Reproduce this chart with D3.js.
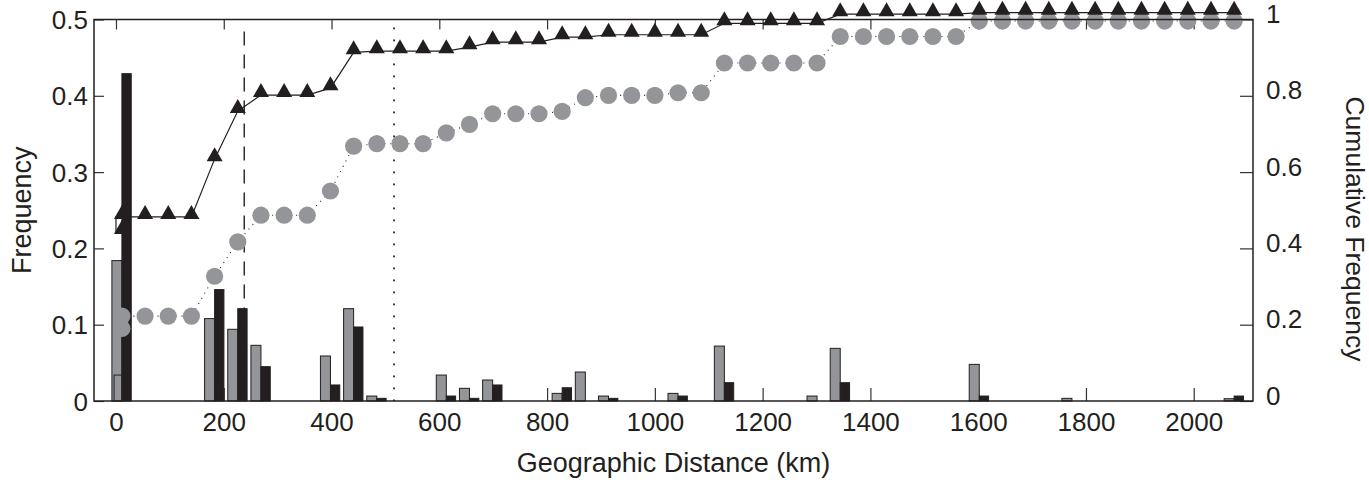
<!DOCTYPE html>
<html>
<head>
<meta charset="utf-8">
<script src="https://cdn.jsdelivr.net/npm/d3@7"></script>
<style>
  body { margin: 0; background: #fff; }
  text { font-family: "Liberation Sans", Arial, Helvetica, sans-serif; fill: #231f20; }
</style>
</head>
<body>
<div id="chart"></div>
<script>
// bin centres (km)
const binCenters = [11, 54, 97, 140, 183, 226, 269, 312, 355, 398, 441, 484, 527, 570, 613, 656, 699, 742, 785, 828,
  871, 914, 957, 1000, 1043, 1086, 1129, 1172, 1215, 1258, 1301, 1344, 1387, 1430, 1473, 1516, 1559, 1602, 1645, 1688,
  1731, 1774, 1817, 1860, 1903, 1946, 1989, 2032, 2075];

// frequency per bin (left axis)
const grayFreq = [0.184, 0, 0, 0, 0.108, 0.094, 0.073, 0, 0, 0.059, 0.121, 0.0065, 0, 0, 0.034, 0.0166, 0.0275, 0, 0, 0.010,
  0.038, 0.0065, 0, 0, 0.010, 0, 0.072, 0, 0, 0, 0.0065, 0.069, 0, 0, 0, 0, 0, 0.048, 0, 0,
  0, 0.0035, 0, 0, 0, 0, 0, 0, 0.003];
const blackFreq = [0.429, 0, 0, 0, 0.146, 0.121, 0.045, 0, 0, 0.021, 0.097, 0.0035, 0, 0, 0.0065, 0.0035, 0.021, 0, 0, 0.0174,
  0, 0.0035, 0, 0, 0.0065, 0, 0.024, 0, 0, 0, 0, 0.024, 0, 0, 0, 0, 0, 0.0065, 0, 0,
  0, 0, 0, 0, 0, 0, 0, 0, 0.0065];
// second, small gray bar in the first bin
const grayInner = [0.034];

// cumulative frequency per bin (right axis)
const grayCum = [0.2225, 0.2225, 0.2225, 0.2225, 0.327, 0.417, 0.487, 0.487, 0.487, 0.5505, 0.668, 0.6745, 0.6745, 0.6745,
  0.703, 0.725, 0.753, 0.753, 0.753, 0.759, 0.795, 0.801, 0.801, 0.801, 0.808, 0.808, 0.886, 0.886, 0.886, 0.886, 0.886,
  0.9555, 0.9555, 0.9555, 0.9555, 0.9555, 0.9555, 0.996, 0.996, 0.996, 0.996, 0.996, 0.996, 0.996, 0.996, 0.996, 0.996,
  0.996, 0.996];
const blackCum = [0.4825, 0.4825, 0.4825, 0.4825, 0.634, 0.760, 0.802, 0.802, 0.802, 0.820, 0.914, 0.917, 0.917, 0.917,
  0.917, 0.9275, 0.9406, 0.9406, 0.9406, 0.9537, 0.9537, 0.960, 0.960, 0.960, 0.960, 0.960, 0.990, 0.990, 0.990, 0.990,
  0.990, 1.014, 1.014, 1.014, 1.014, 1.014, 1.014, 1.018, 1.018, 1.018, 1.018, 1.018, 1.018, 1.018, 1.018, 1.018, 1.018,
  1.018, 1.018];
// extra first-bin cumulative points
const grayCumFirst = [0.19];
const blackCumFirst = [0.443];

// dashed and dotted reference distances (km)
const refDistances = [238, 516];

const xTicks = [0, 200, 400, 600, 800, 1000, 1200, 1400, 1600, 1800, 2000];
const yLeftTicks = [0, 0.1, 0.2, 0.3, 0.4, 0.5];
const yRightTicks = [0, 0.2, 0.4, 0.6, 0.8, 1];

const W = 1369, H = 480;
const L = 94, R = 1253, T = 19.5, B = 401;
const GRAY = "#939598", DARK = "#231f20";

const svg = d3.select("#chart").append("svg")
  .attr("width", W).attr("height", H);

const x = d3.scaleLinear().domain([-40.8, 2110]).range([L, R]);
const yL = d3.scaleLinear().domain([0, 0.5]).range([B, T]);
const yR = d3.scaleLinear().domain([0, 1]).range([B, T]);

// axes
function styleAxis(g) {
  g.select(".domain").remove();
  g.selectAll(".tick line").attr("stroke", "#333").attr("stroke-width", 1.2);
  g.selectAll(".tick text").style("font-size", "26px").attr("fill", DARK);
}

svg.append("g")
  .attr("transform", `translate(0,${B})`)
  .call(d3.axisBottom(x).tickValues(xTicks).tickSize(-13).tickPadding(29).tickFormat(d3.format("d")))
  .call(styleAxis)
  .selectAll(".tick text").attr("dy", 0).attr("y", 29.5);

svg.append("g")
  .attr("transform", `translate(0,${T})`)
  .call(d3.axisTop(x).tickValues(xTicks).tickSize(-10).tickFormat(""))
  .call(styleAxis);

svg.append("g")
  .attr("transform", `translate(${L},0)`)
  .call(d3.axisLeft(yL).tickValues(yLeftTicks).tickSize(-10).tickPadding(6)
    .tickFormat(d => d === 0 ? "0" : String(d)))
  .call(styleAxis)
  .selectAll(".tick text").attr("dy", "0.35em");

svg.append("g")
  .attr("transform", `translate(${R},0)`)
  .call(d3.axisRight(yR).tickValues(yRightTicks).tickSize(-13).tickPadding(13)
    .tickFormat(d => String(d)))
  .call(styleAxis)
  .selectAll(".tick text").attr("dy", "0.12em");

// bars
const bins = binCenters.map((c, i) => ({ c, g: grayFreq[i], b: blackFreq[i] }));
const gw = 18.6, bw = 17.3;

svg.append("g").selectAll("rect")
  .data(bins.filter(d => d.g > 0))
  .join("rect")
  .attr("x", d => x(d.c - gw))
  .attr("width", d => x(d.c) - x(d.c - gw))
  .attr("y", d => yL(d.g))
  .attr("height", d => yL(0) - yL(d.g))
  .attr("fill", GRAY).attr("stroke", DARK).attr("stroke-width", 1);

svg.append("g").selectAll("rect")
  .data(grayInner)
  .join("rect")
  .attr("x", x(binCenters[0] - gw + 4))
  .attr("width", x(binCenters[0]) - x(binCenters[0] - gw + 4))
  .attr("y", d => yL(d))
  .attr("height", d => yL(0) - yL(d))
  .attr("fill", GRAY).attr("stroke", DARK).attr("stroke-width", 1);

svg.append("g").selectAll("rect")
  .data(bins.filter(d => d.b > 0))
  .join("rect")
  .attr("x", d => x(d.c))
  .attr("width", d => x(d.c + bw) - x(d.c))
  .attr("y", d => yL(d.b))
  .attr("height", d => yL(0) - yL(d.b))
  .attr("fill", DARK).attr("stroke", DARK).attr("stroke-width", 1);

// reference lines
svg.append("line")
  .attr("x1", x(refDistances[0])).attr("x2", x(refDistances[0]))
  .attr("y1", T + 12).attr("y2", B)
  .attr("stroke", DARK).attr("stroke-width", 1.4).attr("stroke-dasharray", "14,9");
svg.append("line")
  .attr("x1", x(refDistances[1])).attr("x2", x(refDistances[1]))
  .attr("y1", T + 8).attr("y2", B)
  .attr("stroke", DARK).attr("stroke-width", 1.8).attr("stroke-dasharray", "1.8,10.2");

// cumulative lines
const grayPts = [[binCenters[0], grayCumFirst[0]]].concat(binCenters.map((c, i) => [c, grayCum[i]]));
const blackPts = [[26, blackCumFirst[0]], [0, blackCumFirst[0]], [0, blackCum[0]]]
  .concat(binCenters.map((c, i) => [c, blackCum[i]]));

const line = d3.line().x(d => x(d[0])).y(d => yR(d[1]));

svg.append("path").datum(grayPts)
  .attr("d", line).attr("fill", "none")
  .attr("stroke", DARK).attr("stroke-width", 1.1).attr("stroke-dasharray", "1,5");

svg.append("g").selectAll("circle")
  .data(grayPts)
  .join("circle")
  .attr("cx", d => x(d[0])).attr("cy", d => yR(d[1]))
  .attr("r", 8.6).attr("fill", GRAY);

svg.append("path").datum(blackPts)
  .attr("d", line).attr("fill", "none")
  .attr("stroke", DARK).attr("stroke-width", 1.2);

const triPts = [[binCenters[0], blackCumFirst[0]]].concat(binCenters.map((c, i) => [c, blackCum[i]]));
svg.append("g").selectAll("path")
  .data(triPts)
  .join("path")
  .attr("transform", d => `translate(${x(d[0])},${yR(d[1])})`)
  .attr("d", "M0,-12L8,2L-8,2Z")
  .attr("fill", DARK);

// box
svg.append("rect")
  .attr("x", L).attr("y", T).attr("width", R - L).attr("height", B - T)
  .attr("fill", "none").attr("stroke", DARK).attr("stroke-width", 1.5);

// axis titles
svg.append("text")
  .attr("transform", `translate(31,${(T + B) / 2}) rotate(-90)`)
  .attr("text-anchor", "middle").style("font-size", "27px")
  .text("Frequency");

svg.append("text")
  .attr("transform", `translate(1346,229) rotate(90)`)
  .attr("text-anchor", "middle").style("font-size", "26.5px")
  .text("Cumulative Frequency");

svg.append("text")
  .attr("x", (L + R) / 2).attr("y", 472)
  .attr("text-anchor", "middle").style("font-size", "27px")
  .text("Geographic Distance (km)");
</script>
</body>
</html>
